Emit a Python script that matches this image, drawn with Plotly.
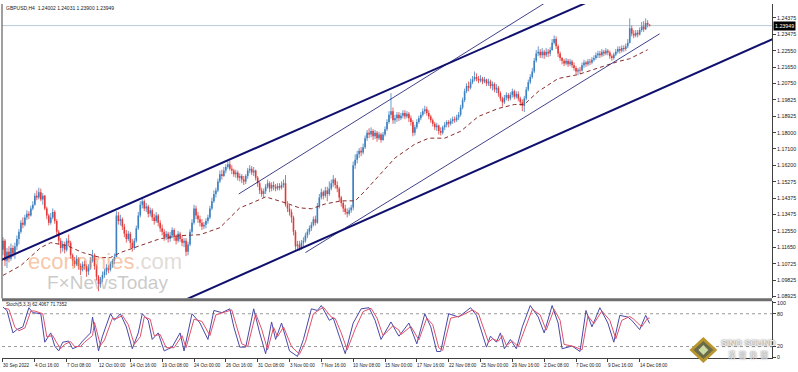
import plotly.graph_objects as go

# ---------------- data ----------------
first_open = 1.1150
closes = [
1.1200,1.1090,1.1140,1.1100,1.1160,1.1130,1.1170,1.1210,1.1250,1.1300,
1.1290,1.1330,1.1350,1.1340,1.1380,1.1400,1.1450,1.1440,1.1470,1.1430,
1.1450,1.1380,1.1340,1.1300,1.1330,1.1360,1.1310,1.1250,1.1200,1.1160,
1.1180,1.1150,1.1200,1.1190,1.1120,1.1090,1.1070,1.1100,1.1060,1.1040,
1.1070,1.1060,1.1030,1.1050,1.1090,1.1120,1.1060,1.1000,1.0960,1.0990,
1.1010,1.1030,1.1050,1.1040,1.1070,1.1090,1.1110,1.1340,1.1310,1.1320,
1.1280,1.1240,1.1210,1.1240,1.1190,1.1160,1.1200,1.1270,1.1340,1.1400,
1.1420,1.1380,1.1390,1.1350,1.1370,1.1330,1.1310,1.1340,1.1300,1.1270,
1.1250,1.1220,1.1240,1.1210,1.1230,1.1260,1.1220,1.1200,1.1240,1.1210,
1.1190,1.1200,1.1140,1.1180,1.1250,1.1300,1.1380,1.1340,1.1320,1.1300,
1.1280,1.1290,1.1310,1.1330,1.1380,1.1420,1.1460,1.1480,1.1530,1.1570,
1.1560,1.1590,1.1610,1.1625,1.1600,1.1590,1.1570,1.1580,1.1550,1.1560,
1.1540,1.1530,1.1560,1.1590,1.1600,1.1580,1.1590,1.1550,1.1520,1.1480,
1.1460,1.1475,1.1500,1.1520,1.1490,1.1510,1.1500,1.1490,1.1505,1.1495,
1.1510,1.1520,1.1400,1.1380,1.1360,1.1330,1.1250,1.1170,1.1180,1.1160,
1.1190,1.1200,1.1230,1.1250,1.1270,1.1290,1.1320,1.1300,1.1390,1.1440,
1.1470,1.1450,1.1480,1.1460,1.1490,1.1520,1.1540,1.1510,1.1490,1.1440,
1.1410,1.1380,1.1360,1.1350,1.1370,1.1385,1.1620,1.1650,1.1680,1.1700,
1.1690,1.1720,1.1770,1.1800,1.1790,1.1810,1.1780,1.1800,1.1770,1.1790,
1.1760,1.1790,1.1820,1.1860,1.1900,1.1920,1.1870,1.1880,1.1900,1.1880,
1.1895,1.1910,1.1890,1.1905,1.1880,1.1860,1.1800,1.1830,1.1860,1.1880,
1.1900,1.1920,1.1930,1.1910,1.1890,1.1870,1.1850,1.1830,1.1840,1.1810,
1.1800,1.1830,1.1845,1.1860,1.1850,1.1865,1.1875,1.1870,1.1885,1.1900,
1.1940,1.1980,1.2030,1.2060,1.2050,1.2080,1.2095,1.2110,1.2100,1.2090,
1.2100,1.2085,1.2095,1.2075,1.2085,1.2060,1.2070,1.2040,1.2050,1.2020,
1.1990,1.1970,1.1995,1.2010,1.1990,1.2010,1.2030,1.2000,1.2015,1.1990,
1.1970,1.1950,1.1990,1.2040,1.2080,1.2110,1.2140,1.2200,1.2240,1.2250,
1.2230,1.2250,1.2230,1.2250,1.2240,1.2260,1.2300,1.2320,1.2280,1.2240,
1.2215,1.2200,1.2185,1.2200,1.2180,1.2195,1.2175,1.2160,1.2140,1.2150,
1.2145,1.2175,1.2190,1.2180,1.2195,1.2190,1.2205,1.2215,1.2230,1.2240,
1.2230,1.2250,1.2240,1.2255,1.2245,1.2225,1.2215,1.2235,1.2250,1.2265,
1.2255,1.2270,1.2265,1.2280,1.2300,1.2380,1.2350,1.2340,1.2355,1.2345,
1.2370,1.2390,1.2375,1.2410,1.2400,1.23949]
highs = [
1.1220,1.1210,1.1160,1.1170,1.1185,1.1175,1.1190,1.1230,1.1265,1.1315,
1.1330,1.1345,1.1370,1.1365,1.1395,1.1420,1.1465,1.1480,1.1495,1.1490,
1.1465,1.1455,1.1390,1.1350,1.1355,1.1380,1.1370,1.1320,1.1260,1.1215,
1.1200,1.1195,1.1215,1.1235,1.1200,1.1130,1.1110,1.1120,1.1110,1.1075,
1.1085,1.1090,1.1070,1.1070,1.1110,1.1150,1.1130,1.1070,1.1010,1.1000,
1.1030,1.1045,1.1070,1.1065,1.1085,1.1100,1.1130,1.1365,1.1360,1.1345,
1.1330,1.1295,1.1260,1.1255,1.1250,1.1210,1.1215,1.1285,1.1360,1.1420,
1.1440,1.1430,1.1410,1.1400,1.1385,1.1380,1.1350,1.1360,1.1350,1.1315,
1.1290,1.1265,1.1255,1.1250,1.1250,1.1275,1.1270,1.1235,1.1255,1.1250,
1.1230,1.1215,1.1215,1.1195,1.1265,1.1320,1.1400,1.1395,1.1360,1.1340,
1.1320,1.1305,1.1325,1.1345,1.1395,1.1440,1.1480,1.1495,1.1545,1.1590,
1.1595,1.1610,1.1625,1.1640,1.1645,1.1620,1.1600,1.1595,1.1590,1.1575,
1.1570,1.1560,1.1570,1.1605,1.1620,1.1615,1.1610,1.1595,1.1560,1.1530,
1.1495,1.1490,1.1515,1.1540,1.1530,1.1525,1.1530,1.1515,1.1520,1.1520,
1.1530,1.1540,1.1565,1.1420,1.1400,1.1375,1.1340,1.1260,1.1200,1.1200,
1.1205,1.1220,1.1245,1.1265,1.1285,1.1305,1.1335,1.1340,1.1410,1.1460,
1.1490,1.1480,1.1500,1.1500,1.1530,1.1540,1.1565,1.1550,1.1530,1.1500,
1.1450,1.1420,1.1400,1.1380,1.1385,1.1400,1.1640,1.1680,1.1700,1.1715,
1.1720,1.1740,1.1785,1.1815,1.1825,1.1830,1.1820,1.1815,1.1810,1.1805,
1.1800,1.1805,1.1835,1.1875,1.1920,1.2020,1.1940,1.1900,1.1915,1.1915,
1.1910,1.1925,1.1925,1.1920,1.1915,1.1895,1.1870,1.1845,1.1875,1.1895,
1.1915,1.1935,1.1950,1.1945,1.1925,1.1900,1.1880,1.1860,1.1855,1.1845,
1.1830,1.1840,1.1860,1.1870,1.1870,1.1880,1.1890,1.1890,1.1900,1.1915,
1.1955,1.1995,1.2045,1.2075,1.2085,1.2100,1.2115,1.2140,1.2130,1.2115,
1.2120,1.2110,1.2110,1.2100,1.2100,1.2095,1.2085,1.2080,1.2070,1.2060,
1.2030,1.2000,1.2010,1.2025,1.2020,1.2025,1.2045,1.2040,1.2030,1.2030,
1.2000,1.1985,1.2005,1.2055,1.2095,1.2125,1.2160,1.2215,1.2260,1.2280,
1.2265,1.2270,1.2260,1.2270,1.2265,1.2275,1.2320,1.2340,1.2335,1.2290,
1.2250,1.2220,1.2210,1.2215,1.2210,1.2210,1.2205,1.2190,1.2170,1.2160,
1.2165,1.2190,1.2205,1.2200,1.2210,1.2210,1.2220,1.2230,1.2245,1.2255,
1.2255,1.2265,1.2260,1.2270,1.2265,1.2255,1.2235,1.2245,1.2265,1.2280,
1.2280,1.2285,1.2285,1.2295,1.2320,1.2435,1.2395,1.2370,1.2370,1.2370,
1.2385,1.2415,1.2420,1.2435,1.2425,1.24031]
lows = [
1.1120,1.1060,1.1050,1.1080,1.1090,1.1110,1.1100,1.1150,1.1180,1.1240,
1.1270,1.1280,1.1315,1.1320,1.1335,1.1370,1.1395,1.1425,1.1430,1.1420,
1.1400,1.1370,1.1320,1.1285,1.1290,1.1320,1.1295,1.1230,1.1180,1.1130,
1.1140,1.1130,1.1140,1.1170,1.1100,1.1060,1.1050,1.1060,1.1040,1.1010,
1.1030,1.1040,1.1000,1.1010,1.1040,1.1080,1.1040,1.0980,1.0920,1.0940,
1.0970,1.0995,1.1010,1.1020,1.1030,1.1050,1.1070,1.1110,1.1290,1.1285,
1.1260,1.1220,1.1190,1.1200,1.1160,1.1140,1.1150,1.1190,1.1260,1.1330,
1.1380,1.1365,1.1360,1.1330,1.1335,1.1310,1.1290,1.1300,1.1280,1.1250,
1.1230,1.1200,1.1205,1.1190,1.1195,1.1215,1.1200,1.1180,1.1190,1.1195,
1.1170,1.1165,1.1115,1.1120,1.1170,1.1240,1.1290,1.1320,1.1300,1.1280,
1.1260,1.1265,1.1270,1.1295,1.1320,1.1370,1.1410,1.1440,1.1470,1.1520,
1.1540,1.1555,1.1575,1.1600,1.1590,1.1570,1.1555,1.1550,1.1535,1.1530,
1.1520,1.1510,1.1515,1.1545,1.1575,1.1565,1.1560,1.1535,1.1500,1.1460,
1.1445,1.1440,1.1460,1.1490,1.1470,1.1475,1.1480,1.1475,1.1480,1.1480,
1.1485,1.1495,1.1390,1.1360,1.1340,1.1300,1.1230,1.1150,1.1145,1.1145,
1.1150,1.1170,1.1190,1.1215,1.1235,1.1255,1.1280,1.1285,1.1295,1.1380,
1.1430,1.1430,1.1440,1.1420,1.1450,1.1480,1.1500,1.1490,1.1470,1.1420,
1.1390,1.1360,1.1345,1.1330,1.1340,1.1355,1.1370,1.1600,1.1630,1.1660,
1.1670,1.1680,1.1710,1.1755,1.1770,1.1775,1.1760,1.1765,1.1750,1.1760,
1.1745,1.1755,1.1780,1.1810,1.1850,1.1880,1.1850,1.1850,1.1860,1.1865,
1.1870,1.1880,1.1875,1.1880,1.1860,1.1840,1.1780,1.1785,1.1820,1.1850,
1.1870,1.1890,1.1905,1.1895,1.1875,1.1855,1.1835,1.1815,1.1810,1.1790,
1.1785,1.1790,1.1815,1.1830,1.1830,1.1840,1.1850,1.1855,1.1860,1.1870,
1.1890,1.1930,1.1970,1.2020,1.2030,1.2040,1.2070,1.2085,1.2085,1.2075,
1.2080,1.2070,1.2075,1.2060,1.2060,1.2045,1.2035,1.2025,1.2020,1.2000,
1.1975,1.1945,1.1960,1.1980,1.1975,1.1980,1.1995,1.1985,1.1990,1.1975,
1.1950,1.1920,1.1915,1.1980,1.2030,1.2070,1.2100,1.2130,1.2190,1.2225,
1.2215,1.2215,1.2210,1.2220,1.2220,1.2225,1.2255,1.2290,1.2265,1.2220,
1.2200,1.2180,1.2170,1.2175,1.2165,1.2170,1.2160,1.2145,1.2125,1.2120,
1.2125,1.2140,1.2160,1.2165,1.2170,1.2175,1.2180,1.2195,1.2205,1.2215,
1.2215,1.2220,1.2225,1.2230,1.2230,1.2210,1.2200,1.2205,1.2225,1.2240,
1.2240,1.2245,1.2250,1.2255,1.2270,1.2295,1.2335,1.2325,1.2330,1.2330,
1.2340,1.2360,1.2360,1.2370,1.2385,1.23900]

# dashed moving average, read at sample bars
ma_idx = [0,9,19,24,32,40,49,54,59,69,79,89,99,109,119,124,132,142,149,155,
          162,170,177,182,189,197,207,214,222,230,239,249,257,262,269,279,289,299,309,315,324]
ma_val = [1.1008,1.1063,1.1163,1.1190,1.1174,1.1135,1.1107,1.1107,1.1135,1.1174,
          1.1212,1.1229,1.1234,1.1273,1.1383,1.1405,1.1444,1.1411,1.1383,1.1378,
          1.1405,1.1422,1.1422,1.1477,1.1560,1.1660,1.1737,1.1770,1.1770,1.1808,
          1.1891,1.1935,1.1957,1.1957,1.2029,1.2101,1.2123,1.2157,1.2195,1.2211,1.2261]

# stochastic (5,3,3) main and signal, read at turning points
stoch_k_idx = [0,2,5,7,10,13,15,19,21,24,26,28,30,33,35,38,40,44,45,48,
               50,54,56,59,62,65,68,70,73,75,78,81,85,89,91,95,99,103,106,110,
               114,116,119,122,126,129,132,135,137,140,144,148,151,155,158,160,164,166,169,172,
               176,180,184,187,190,195,198,199,204,208,212,215,218,220,224,229,235,238,243,245,
               248,250,252,255,258,261,265,269,272,276,279,281,286,290,293,296,300,304,307,310,
               314,316,320,323,325]
stoch_k = [92,86,45,51,56,91,82,80,28,45,21,12,28,30,16,21,30,45,74,12,
           39,80,68,80,56,16,45,80,68,33,45,12,19,45,12,80,63,33,86,82,
           89,56,19,19,89,45,7,65,33,63,12,2,33,89,86,95,68,72,39,7,
           63,89,91,68,33,65,45,39,63,25,80,56,11,11,80,74,91,77,19,39,
           28,45,16,33,16,56,95,74,45,95,63,16,21,11,86,56,91,63,28,77,
           74,68,51,77,62.4067]
stoch_d_idx = [1,3,6,8,11,14,16,20,22,25,27,29,31,34,36,39,41,45,46,49,
               51,55,57,60,63,66,69,71,74,76,79,82,86,90,92,96,100,104,107,111,
               115,117,120,123,127,130,133,136,138,141,145,149,152,156,159,161,165,167,170,173,
               177,181,185,188,191,196,199,200,205,209,213,216,219,221,225,230,236,239,244,246,
               249,251,253,256,259,262,266,270,273,277,280,282,287,291,294,297,301,305,308,311,
               315,317,321,324,325]
stoch_d = [90,88,55,49,54,85,85,80,38,40,27,16,24,29,20,20,28,40,64,22,
           32,72,71,77,60,24,38,74,70,40,42,18,18,40,18,70,66,40,78,83,
           87,62,25,20,80,52,14,55,38,56,20,6,28,80,88,92,74,71,45,14,
           52,84,90,72,40,58,50,42,57,32,72,60,18,13,72,76,87,80,28,34,
           30,40,22,30,20,48,88,78,50,88,68,24,20,14,76,62,85,68,34,68,
           75,70,56,72,71.7352]

# trend / channel lines (bar index, price)
upper_thick_x = [-1.5, 298.5];  upper_thick_y = [1.10906, 1.25479]
lower_thick_x = [83.5, 398.5];  lower_thick_y = [1.08328, 1.23770]
upper_thin_x = [118.5, 278.5];  upper_thin_y = [1.14604, 1.25627]
lower_thin_x = [152.0, 330.0];  lower_thin_y = [1.11348, 1.23492]

last_price = 1.23949
price_ticks = [1.24375,1.23475,1.22550,1.21650,1.20750,1.19825,1.18925,1.18000,1.17100,
               1.16200,1.15275,1.14375,1.13475,1.12550,1.11650,1.10725,1.09825,1.08925]
stoch_ticks = [0, 20, 80, 100]
date_idx = [0,16,32,48,64,80,96,112,128,144,160,176,192,208,224,240,256,272,288,304,320]
date_labels = ["30 Sep 2022","4 Oct 16:00","7 Oct 08:00","12 Oct 00:00","14 Oct 16:00",
               "19 Oct 08:00","24 Oct 00:00","26 Oct 16:00","31 Oct 08:00","3 Nov 00:00",
               "7 Nov 16:00","10 Nov 08:00","15 Nov 00:00","17 Nov 16:00","22 Nov 08:00",
               "25 Nov 00:00","29 Nov 16:00","2 Dec 08:00","7 Dec 00:00","9 Dec 16:00","14 Dec 08:00"]

n = len(closes)
assert len(highs) == n and len(lows) == n, (n, len(highs), len(lows))
opens = [first_open] + closes[:-1]

# ---------------- build candle segments ----------------
UP = "#3d80c0"
DN = "#e23a3a"
segs = {"uw": ([], []), "ub": ([], []), "dw": ([], []), "db": ([], [])}
for i in range(n):
    o, h, l, c = opens[i], highs[i], lows[i], closes[i]
    k = "u" if c >= o else "d"
    wx, wy = segs[k + "w"]
    bx, by = segs[k + "b"]
    wx += [i, i, None]; wy += [l, h, None]
    bx += [i, i, None]; by += [o, c, None]

fig = go.Figure()
FONT = "Liberation Sans"

for key, col, w in [("uw", UP, 0.8), ("dw", DN, 0.8), ("ub", UP, 1.6), ("db", DN, 1.6)]:
    xs, ys = segs[key]
    fig.add_trace(go.Scatter(x=xs, y=ys, mode="lines", line=dict(color=col, width=w),
                             hoverinfo="skip", xaxis="x", yaxis="y"))

fig.add_trace(go.Scatter(x=ma_idx, y=ma_val, mode="lines",
                         line=dict(color="#8a2b2b", width=1, dash="4px,3px"),
                         xaxis="x", yaxis="y"))

for xs, ys, w in [(upper_thick_x, upper_thick_y, 2.0), (lower_thick_x, lower_thick_y, 2.0),
                  (upper_thin_x, upper_thin_y, 0.8), (lower_thin_x, lower_thin_y, 0.8)]:
    fig.add_trace(go.Scatter(x=xs, y=ys, mode="lines", line=dict(color="#10106e", width=w),
                             xaxis="x", yaxis="y"))

fig.add_trace(go.Scatter(x=stoch_k_idx, y=stoch_k, mode="lines",
                         line=dict(color="#4848a8", width=1), xaxis="x2", yaxis="y2"))
fig.add_trace(go.Scatter(x=stoch_d_idx, y=stoch_d, mode="lines",
                         line=dict(color="#e0506a", width=1), xaxis="x2", yaxis="y2"))

XR = [-0.5, 386.5]
axis_col = "#404040"
fig.update_layout(
    width=798, height=372, margin=dict(l=2, r=22, t=2, b=14),
    paper_bgcolor="white", plot_bgcolor="white", showlegend=False,
    xaxis=dict(domain=[0, 1], range=XR, anchor="y", showticklabels=False, showgrid=False,
               zeroline=False, showline=False, ticks=""),
    yaxis=dict(domain=[0.16854, 1], range=[1.08808, 1.25148], side="right", anchor="x",
               tickvals=price_ticks, ticktext=["%.5f" % v for v in price_ticks],
               ticks="outside", ticklen=3, tickcolor=axis_col, showline=True,
               linecolor=axis_col, linewidth=1, showgrid=False, zeroline=False,
               tickfont=dict(family=FONT, size=5.3, color="#202020")),
    xaxis2=dict(domain=[0, 1], range=XR, anchor="y2", tickvals=date_idx,
                showticklabels=False, ticks="outside", ticklen=3, tickcolor=axis_col,
                showline=True, linecolor=axis_col, linewidth=1, showgrid=False, zeroline=False),
    yaxis2=dict(domain=[0, 0.16011], range=[-0.9, 102.7], side="right", anchor="x2",
                tickvals=stoch_ticks, ticktext=[str(v) for v in stoch_ticks],
                ticks="outside", ticklen=3, tickcolor=axis_col, showline=True,
                linecolor=axis_col, linewidth=1, showgrid=False, zeroline=False,
                tickfont=dict(family=FONT, size=5.3, color="#202020")),
)

shapes = [
    dict(type="line", xref="x domain", x0=0, x1=1, yref="y", y0=last_price, y1=last_price,
         line=dict(color="#b8cadb", width=1), layer="below"),
    dict(type="line", xref="x2 domain", x0=0, x1=1, yref="y2", y0=20, y1=20,
         line=dict(color="#9a9a9a", width=1, dash="dot"), layer="below"),
    dict(type="line", xref="x2 domain", x0=0, x1=1, yref="y2", y0=80, y1=80,
         line=dict(color="#9a9a9a", width=1, dash="dot"), layer="below"),
    dict(type="line", xref="paper", x0=0, x1=1, yref="paper", y0=0.1643, y1=0.1643,
         line=dict(color="#6e6e6e", width=3)),
    dict(type="line", xref="paper", x0=0, x1=0, yref="paper", y0=0.1685, y1=1,
         line=dict(color=axis_col, width=1)),
]
# SINO SOUND diamond logo
xc, yc = 0.91085, 0.02247
for dx, dy, col in [(0.01809, 0.03652, "#b8962e"), (0.01292, 0.02528, "#6b6a4a"),
                    (0.00646, 0.01404, "#cbd9a2")]:
    shapes.append(dict(type="path", xref="paper", yref="paper",
                       path=f"M {xc},{yc+dy} L {xc+dx},{yc} L {xc},{yc-dy} L {xc-dx},{yc} Z",
                       fillcolor=col, line=dict(width=0)))
fig.update_layout(shapes=shapes)

ann = []
for xi, lab in zip(date_idx, date_labels):
    ann.append(dict(x=xi, xref="x2", y=-0.0225, yref="paper", text=lab, showarrow=False,
                    xanchor="left", yanchor="middle", xshift=-1, borderpad=0,
                    font=dict(family=FONT, size=4.6, color="#202020")))
ann.append(dict(x=0.002, xref="paper", y=0.9888, yref="paper", showarrow=False,
                text="GBPUSD,H4  1.24002 1.24031 1.23900 1.23949", xanchor="left",
                yanchor="middle", font=dict(family=FONT, size=5, color="#202020")))
ann.append(dict(x=0.002, xref="paper", y=0.1503, yref="paper", showarrow=False,
                text="Stoch(5,3,3) 62.4067 71.7352", xanchor="left", yanchor="middle",
                font=dict(family=FONT, size=4.6, color="#202020")))
ann.append(dict(x=1, xref="paper", y=last_price, yref="y", showarrow=False,
                text="%.5f" % last_price, xanchor="left", yanchor="middle", xshift=1,
                bgcolor="#000000", borderpad=1,
                font=dict(family=FONT, size=5.3, color="#ffffff")))
ann.append(dict(x=0.1344, xref="paper", y=0.2725, yref="paper", showarrow=False,
                text='<span style="color:rgba(240,150,95,0.55)">economies</span>'
                     '<span style="color:rgba(205,195,190,0.6)">.com</span>',
                xanchor="center", yanchor="middle", borderpad=0,
                font=dict(family=FONT, size=22)))
ann.append(dict(x=0.1370, xref="paper", y=0.2120, yref="paper", showarrow=False,
                text="F×NewsToday", xanchor="center", yanchor="middle", borderpad=0,
                font=dict(family=FONT, size=19, color="rgba(150,150,150,0.5)")))
ann.append(dict(x=0.9690, xref="paper", y=0.0420, yref="paper", showarrow=False,
                text="<b>SINO SOUND</b>", xanchor="center", yanchor="middle", borderpad=0,
                font=dict(family=FONT, size=8.6, color="#ececec", shadow="0px 0px 2px #555555")))
ann.append(dict(x=0.9690, xref="paper", y=0.0100, yref="paper", showarrow=False,
                text="漢  聲  集  團", xanchor="center", yanchor="middle", borderpad=0,
                font=dict(family="Noto Sans CJK TC", size=7.5, color="#ececec",
                          shadow="0px 0px 2px #555555")))
fig.update_layout(annotations=ann)

fig.write_html("out.html")
